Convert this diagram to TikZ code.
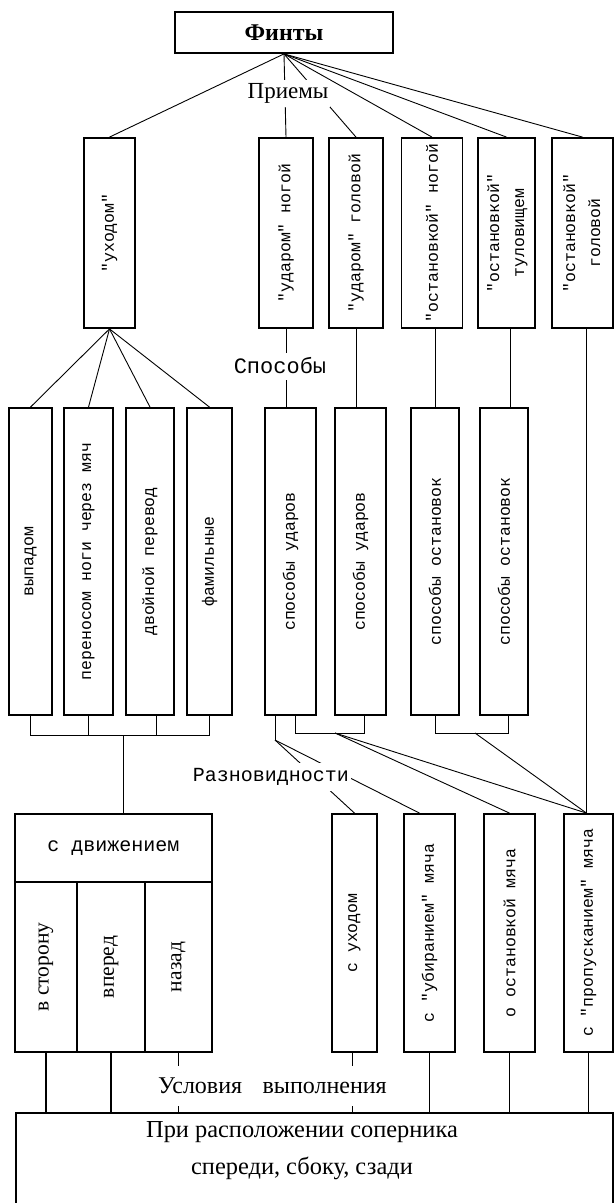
\documentclass[tikz,border=0pt]{standalone}
\usepackage{fontspec}
\setmainfont{Liberation Serif}
\newfontfamily\cour{Liberation Mono}
\newcommand{\vt}[1]{\rotatebox{90}{#1}}
\newcommand{\vtt}[2]{\rotatebox{90}{\begin{tabular}{@{}c@{}}#1\\#2\end{tabular}}}

\begin{document}
\begin{tikzpicture}[x=1pt,y=-1pt]
\useasboundingbox (0,0) rectangle (615,1203);
\clip (0,0) rectangle (615,1203);
\tikzstyle{box}=[draw,shape=rectangle,line width=1.8pt,inner sep=0pt,font=\cour\fontsize{16.5}{25}\selectfont];
\tikzstyle{tag}=[fill=white,inner sep=2pt];
\tikzstyle{link}=[line width=0.9pt];
\tikzstyle{post}=[line width=1.8pt];
\node[box,minimum width=218,minimum height=41,font=\bfseries\fontsize{24}{24}\selectfont] (p0) at (284,32.5) {Финты};
\node[box,minimum width=51,minimum height=190] (p1) at (109.5,233) {\vt{"уходом"}};
\node[box,minimum width=54,minimum height=190] (p2) at (286,233) {\vt{"ударом" ногой}};
\node[box,minimum width=54,minimum height=190] (p3) at (356,233) {\vt{"ударом" головой}};
\node[box,minimum width=61,minimum height=190] (p4) at (432,233) {\vt{"остановкой" ногой}};
\node[box,minimum width=57,minimum height=190] (p5) at (506.5,233) {\vtt{"остановкой"}{туловищем}};
\node[box,minimum width=61,minimum height=190] (p6) at (582.5,233) {\vtt{"остановкой"}{головой}};
\node[box,minimum width=43,minimum height=307] (s1) at (30.5,561.5) {\vt{выпадом}};
\node[box,minimum width=49,minimum height=307] (s2) at (88.5,561.5) {\vt{переносом ноги через мяч}};
\node[box,minimum width=48,minimum height=307] (s3) at (150,561.5) {\vt{двойной перевод}};
\node[box,minimum width=45,minimum height=307] (s4) at (209.5,561.5) {\vt{фамильные}};
\node[box,minimum width=51,minimum height=307] (s5) at (290.5,561.5) {\vt{способы ударов}};
\node[box,minimum width=51,minimum height=307] (s6) at (360.5,561.5) {\vt{способы ударов}};
\node[box,minimum width=48,minimum height=307] (s7) at (435,561.5) {\vt{способы остановок}};
\node[box,minimum width=48,minimum height=307] (s8) at (504,561.5) {\vt{способы остановок}};
\node[box,minimum width=197,minimum height=68,font=\cour\fontsize{20}{24}\selectfont] (d0) at (113.5,848) {с движением};
\node[box,minimum width=62,minimum height=170,font=\fontsize{21.5}{24}\selectfont] (d1) at (46,967) {\vt{в сторону}};
\node[box,minimum width=68,minimum height=170,font=\fontsize{21.5}{24}\selectfont] (d2) at (111,967) {\vt{вперед}};
\node[box,minimum width=67,minimum height=170,font=\fontsize{21.5}{24}\selectfont] (d3) at (178.5,967) {\vt{назад}};
\node[box,minimum width=45,minimum height=238] (r1) at (354.5,933) {\vt{с уходом}};
\node[box,minimum width=51,minimum height=238] (r2) at (429.5,933) {\vt{с "убиранием" мяча}};
\node[box,minimum width=51,minimum height=238] (r3) at (509.5,933) {\vt{о остановкой мяча}};
\node[box,minimum width=49,minimum height=238] (r4) at (588.5,933) {\vt{с "пропусканием" мяча}};
\node[box,minimum width=597,minimum height=147] (u0) at (314.5,1186.5) {};
\node[align=center,font=\fontsize{24.4}{37}\selectfont] (t0) at (302,1151) {При расположении соперника\\спереди, сбоку, сзади};
\coordinate (b1) at (123,735);
\coordinate (b2) at (275,740);
\coordinate (b3) at (335,733);
\coordinate (b4) at (475,733);
\draw[link] (p0.south) -- (p1.north);
\draw[link] (p0.south) -- (p2.north);
\draw[link] (p0.south) -- (p3.north);
\draw[link] (p0.south) -- (p4.north);
\draw[link] (p0.south) -- (p5.north);
\draw[link] (p0.south) -- (p6.north);
\draw[link] (p1.south) -- (s1.north);
\draw[link] (p1.south) -- (s2.north);
\draw[link] (p1.south) -- (s3.north);
\draw[link] (p1.south) -- (s4.north);
\draw[link] (p2.south) -- (p2.south |- s5.north);
\draw[link] (p3.south) -- (p3.south |- s6.north);
\draw[link] (s7.north |- p4.south) -- (s7.north);
\draw[link] ([xshift=3.5pt]p5.south) -- ([xshift=3.5pt]p5.south |- s8.north);
\draw[link] ([xshift=3.5pt]p6.south) -- ([xshift=3.5pt]p6.south |- r4.north);
\draw[link] (s1.south) |- (b1) -| (s4.south);
\draw[link] (s2.south) -- (s2.south |- b1);
\draw[link] ([xshift=6pt]s3.south) -- ([xshift=6pt]s3.south |- b1);
\draw[link] (b1) -- (b1 |- d0.north);
\draw[link] (b2 |- s5.south) -- (b2);
\draw[link] ([xshift=4.5pt]s5.south) |- (b3) -| ([xshift=3.5pt]s6.south);
\draw[link] (s7.south) |- (b4) -| ([xshift=4pt]s8.south);
\draw[link] (b2) -- (r1.north);
\draw[link] (b2) -- ([xshift=-10pt]r2.north);
\draw[link] (b3) -- (r3.north);
\draw[link] (b3) -- ([xshift=-2pt]r4.north);
\draw[link] (b4) -- ([xshift=-2pt]r4.north);
\draw[post] (d1.south) -- (d1.south |- u0.north);
\draw[post] (d2.south) -- (d2.south |- u0.north);
\draw[post] (d3.south) -- (d3.south |- u0.north);
\draw[post] ([xshift=-2pt]r1.south) -- ([xshift=-2pt]r1.south |- u0.north);
\draw[post] (r2.south) -- (r2.south |- u0.north);
\draw[post] (r3.south) -- (r3.south |- u0.north);
\draw[post] (r4.south) -- (r4.south |- u0.north);
\node[tag,minimum height=27,font=\fontsize{23}{24}\selectfont] (l1) at (288,93) {Приемы};
\node[tag,minimum height=27,font=\cour\fontsize{22}{24}\selectfont] (l2) at (280,366) {Способы};
\node[tag,minimum height=28,font=\cour\fontsize{20}{24}\selectfont] (l3) at (271,777) {Разновидности};
\node[tag,minimum height=40,font=\fontsize{24}{24}\selectfont] (l4) at (272.5,1086) {Условия\hspace{0.6em} выполнения};
\end{tikzpicture}
\end{document}
